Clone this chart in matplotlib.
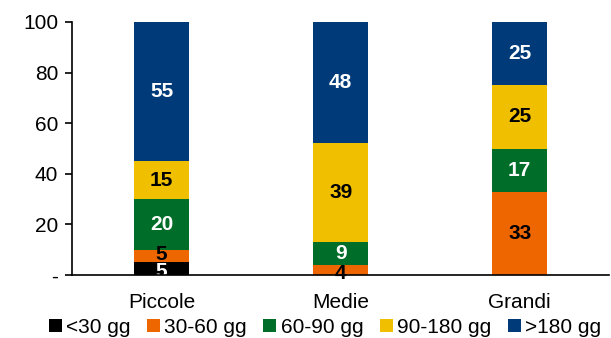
import matplotlib
matplotlib.use("Agg")
import matplotlib.pyplot as plt
import numpy as np

plt.rcParams['font.family'] = ['Liberation Sans', 'DejaVu Sans']

categories = ["Piccole", "Medie", "Grandi"]
series_names = ["<30 gg", "30-60 gg", "60-90 gg", "90-180 gg", ">180 gg"]
v_lt30 = [5, 0, 0]
v_30_60 = [5, 4, 33]
v_60_90 = [20, 9, 17]
v_90_180 = [15, 39, 25]
v_gt180 = [55, 48, 25]
yticks = [0, 20, 40, 60, 80, 100]
ytick_labels = ["-", "20", "40", "60", "80", "100"]

series = [v_lt30, v_30_60, v_60_90, v_90_180, v_gt180]
colors = ["#000000", "#EE6600", "#006E28", "#EFBF00", "#003A78"]
text_colors = ["white", "black", "white", "black", "white"]

fig = plt.figure(figsize=(6.11, 3.38), dpi=100)
ax = fig.add_axes([0.118, 0.186, 0.879, 0.749])

x = np.arange(len(categories))
bottom = np.zeros(len(categories))
for si, (name, vals, c, tc) in enumerate(zip(series_names, series, colors, text_colors)):
    vals = np.array(vals, dtype=float)
    ax.bar(x, vals, 0.31, bottom=bottom, color=c, label=name, zorder=2)
    for xi, v, b in zip(x, vals, bottom):
        if v > 0:
            ypos = b + v / 2
            if v <= 5:
                ypos = b + v / 2 - (1.2 if b == 0 else -0.6)
            ax.text(xi, ypos, f"{int(v)}", ha="center", va="center",
                    color=tc, fontsize=15, fontweight="bold", zorder=3)
    bottom += vals

ax.set_xlim(-0.5, 2.5)
ax.set_ylim(0, 100)
ax.set_yticks(yticks)
ax.set_yticklabels(ytick_labels, fontsize=15)
ax.set_xticks(x)
ax.set_xticklabels(categories, fontsize=15)
ax.tick_params(axis="x", length=0, pad=13)
ax.tick_params(axis="y", direction="out", length=5, width=1.2, pad=5)
for s in ["top", "right"]:
    ax.spines[s].set_visible(False)
ax.spines["left"].set_linewidth(1.2)
ax.spines["bottom"].set_linewidth(1.2)
ax.spines["bottom"].set_zorder(4)

fig.legend(loc="lower center", bbox_to_anchor=(0.532, -0.052), ncol=5, frameon=False,
           fontsize=15, handlelength=0.62, handleheight=0.62, handletextpad=0.22,
           columnspacing=0.78)

fig.savefig("out.png", dpi=100)
